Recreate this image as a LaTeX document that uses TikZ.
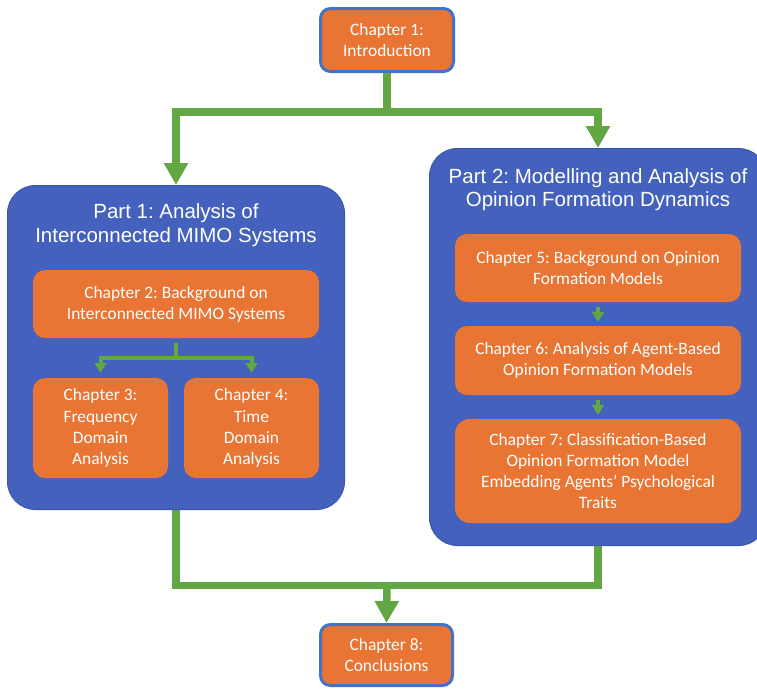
\documentclass[tikz,border=0pt]{standalone}
\usepackage{fontspec}
\setmainfont{Liberation Sans}
\newfontfamily\calfont{Carlito}
\usetikzlibrary{arrows.meta}
\frenchspacing
\definecolor{pblue}{HTML}{4462BD}
\definecolor{pborder}{HTML}{3A56A8}
\definecolor{bborder}{HTML}{4472C4}
\definecolor{corange}{HTML}{E97535}
\definecolor{cgreen}{HTML}{62A744}
\tikzset{
  partbox/.style={draw=pborder, line width=1pt, fill=pblue, rounded corners=28pt, inner sep=0pt},
  chapbox/.style={fill=corange, rounded corners=12pt, inner sep=0pt, text=white, align=center,
    font=\calfont\fontsize{17.4}{21.2}\selectfont},
  endbox/.style={chapbox, draw=bborder, line width=3pt, rounded corners=10pt},
  ptitle/.style={text=white, align=center, inner sep=0pt},
  gline/.style={draw=cgreen, line width=7.5pt},
  garrow/.style={gline, -{Triangle[width=23pt,length=22pt]}},
  sline/.style={draw=cgreen, line width=4pt},
  sarrow/.style={sline, -{Triangle[width=12pt,length=10pt]}}
}
\begin{document}
\begin{tikzpicture}[x=1pt,y=-1pt]
\useasboundingbox (0,0) rectangle (757,689);
% boxes
\node[partbox, minimum width=337pt, minimum height=324pt] (part1) at (176,347.5) {};
\node[partbox, minimum width=337pt, minimum height=397pt] (part2) at (598,347) {};
\node[ptitle, font=\fontsize{20.5}{24.4}\selectfont] (t1) at (176,225) {Part 1: Analysis of\\Interconnected MIMO Systems};
\node[ptitle, font=\fontsize{20.5}{23}\selectfont] (t2) at (598,189.5) {Part 2: Modelling and Analysis of\\Opinion Formation Dynamics};
\node[endbox, minimum width=133pt, minimum height=63pt] (ch1) at (387,40) {Chapter 1:\\Introduction};
\node[endbox, minimum width=132pt, minimum height=61pt] (ch8) at (386.5,655) {Chapter 8:\\Conclusions};
\node[chapbox, minimum width=286pt, minimum height=68pt] (ch2) at (176,304) {Chapter 2: Background on\\Interconnected MIMO Systems};
\node[chapbox, minimum width=135pt, minimum height=100pt] (ch3) at (100.5,428) {Chapter 3:\\Frequency\\Domain\\Analysis};
\node[chapbox, minimum width=135pt, minimum height=100pt] (ch4) at (251.5,428) {Chapter 4:\\Time\\Domain\\Analysis};
\node[chapbox, minimum width=286pt, minimum height=68pt] (ch5) at (598,268) {Chapter 5: Background on Opinion\\Formation Models};
\node[chapbox, minimum width=286pt, minimum height=69pt] (ch6) at (598,360.5) {Chapter 6: Analysis of Agent-Based\\Opinion Formation Models};
\node[chapbox, minimum width=286pt, minimum height=104pt, rounded corners=15pt] (ch7) at (598,471) {Chapter 7: Classification-Based\\Opinion Formation Model\\Embedding Agents’ Psychological\\Traits};
% connectors
\coordinate (j1) at (387,112);
\coordinate (j2) at (387,585.5);
\coordinate (j3) at (176,357.7);
\draw[garrow] (ch1.south) -- (j1) -| (part1.north);
\draw[garrow] (j1) -| (part2.north);
\draw[gline] (part1.south) |- (j2);
\draw[gline] (part2.south) |- (j2);
\draw[garrow] (j2) -- (ch8.north);
\draw[sline, shorten <=5pt] (ch2.south) -- (j3);
\draw[sarrow, shorten >=5pt] (j3) -| (ch3.north);
\draw[sarrow, shorten >=5pt] (j3) -| (ch4.north);
\draw[sarrow, shorten <=5pt, shorten >=4pt] (ch5.south) -- (ch6.north);
\draw[sarrow, shorten <=5pt, shorten >=4pt] (ch6.south) -- (ch7.north);
\end{tikzpicture}
\end{document}
